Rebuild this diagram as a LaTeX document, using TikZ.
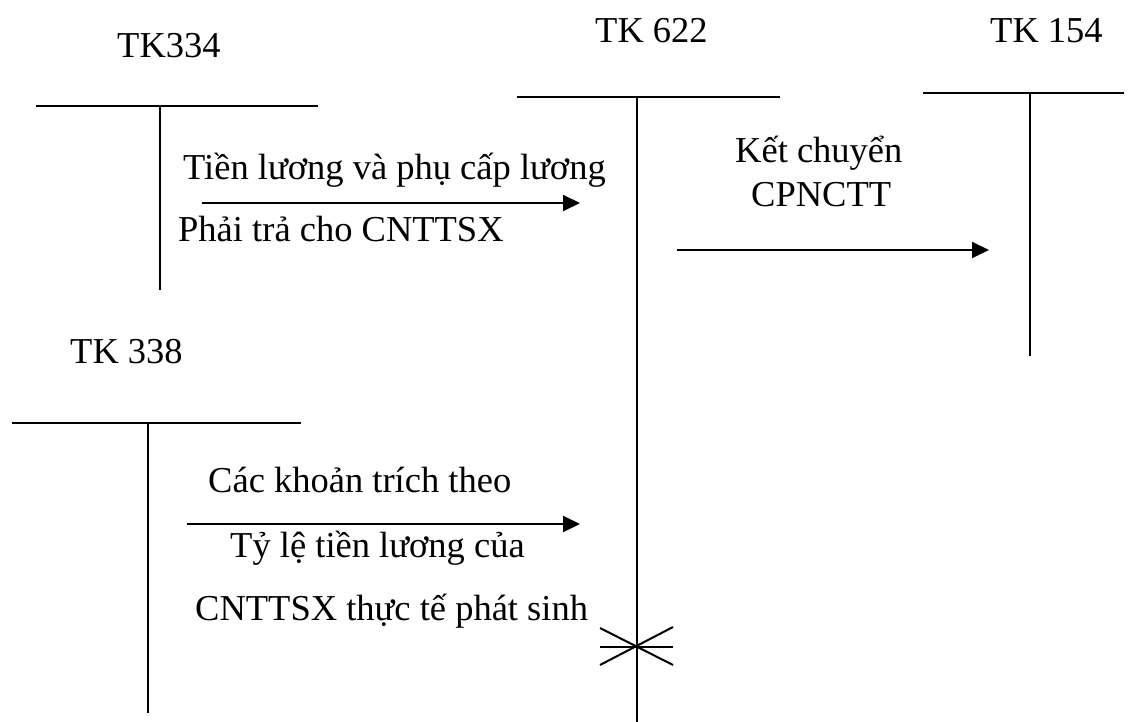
\documentclass[tikz,border=0pt]{standalone}
\usepackage{fontspec}
\setmainfont{Liberation Serif}
\usetikzlibrary{arrows.meta,positioning,calc}

\begin{document}
\begin{tikzpicture}[x=1pt,y=-1pt,
every node/.style={font=\fontsize{36.5}{44}\selectfont,inner sep=0pt,anchor=base west},
tline/.style={line width=2pt},
flow/.style={line width=2pt,-{Triangle[length=17pt,width=16pt]}}]
\useasboundingbox (0,0) rectangle (1138,722);
% account names
\node (N334) at (117,58) {TK334};
\node (N622) at (595,43) {TK 622};
\node (N154) at (990,43) {TK 154};
\node (N338) at (70,363) {TK 338};
% T accounts
\coordinate (L334) at (36,106);
\coordinate (R334) at (318,106);
\coordinate (T334) at (160,106);
\coordinate (B334) at (160,290);
\coordinate (L622) at (517,97);
\coordinate (R622) at (780,97);
\coordinate (T622) at (637,97);
\coordinate (B622) at (637,722);
\coordinate (L154) at (923,93);
\coordinate (R154) at (1124,93);
\coordinate (T154) at (1030,93);
\coordinate (B154) at (1030,356);
\coordinate (L338) at (12,423);
\coordinate (R338) at (301,423);
\coordinate (T338) at (148,423);
\coordinate (B338) at (148,713);
\draw[tline] (L334)--(R334);
\draw[tline] (T334)--(B334);
\draw[tline] (L622)--(R622);
\draw[tline] (T622)--(B622);
\draw[tline] (L154)--(R154);
\draw[tline] (T154)--(B154);
\draw[tline] (L338)--(R338);
\draw[tline] (T338)--(B338);
% flows
\coordinate (S1) at (202,203);
\coordinate (E1) at (580,203);
\coordinate (S2) at (677,250);
\coordinate (E2) at (989,250);
\coordinate (S3) at (187,524);
\coordinate (E3) at (580,524);
\draw[flow] (S1)--(E1);
\draw[flow] (S2)--(E2);
\draw[flow] (S3)--(E3);
\node (F1a) at (183,180) {Tiền lương và phụ cấp lương};
\node (F1b) at (178,241) {Phải trả cho CNTTSX};
\node (F2a) at (735,163) {Kết chuyển};
\node (F2b) at (751,207) {CPNCTT};
\node (F3a) at (208,492) {Các khoản trích theo};
\node (F3b) at (230,557) {Tỷ lệ tiền lương của};
\node (F3c) at (195,620) {CNTTSX thực tế phát sinh};
% closing mark
\coordinate (X1) at (600,628);
\coordinate (X2) at (673,665);
\coordinate (X3) at (600,665);
\coordinate (X4) at (673,627);
\coordinate (X5) at (600,647);
\coordinate (X6) at (673,647);
\draw[tline] (X1)--(X2);
\draw[tline] (X3)--(X4);
\draw[tline] (X5)--(X6);
\end{tikzpicture}
\end{document}
